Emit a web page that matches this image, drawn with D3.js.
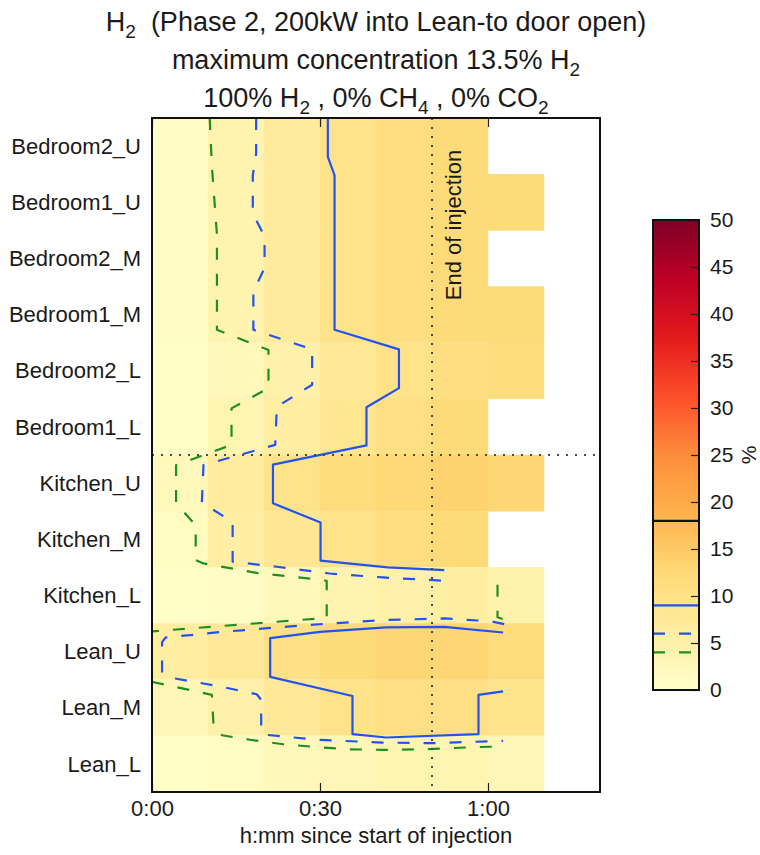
<!DOCTYPE html>
<html>
<head>
<meta charset="utf-8">
<script src="https://cdn.jsdelivr.net/npm/d3@7/dist/d3.min.js"></script>
<style>
  body { margin: 0; background: #fff; }
  text { font-family: "Liberation Sans", Arial, Helvetica, sans-serif; fill: #1a1a1a; }
</style>
</head>
<body>
<svg id="chart" width="760" height="855"></svg>
<script>
// ---- data -------------------------------------------------------------
const rooms = ["Bedroom2_U", "Bedroom1_U", "Bedroom2_M", "Bedroom1_M", "Bedroom2_L", "Bedroom1_L",
               "Kitchen_U", "Kitchen_M", "Kitchen_L", "Lean_U", "Lean_M", "Lean_L"];
const binStarts = [0, 10, 20, 30, 40, 50, 60, 70];   // minutes, 10-minute bins
const binWidth = 10;

// peak H2 % in each 10-minute bin (null = no reading)
const bedroom2U = [1.0, 4.0, 7.0, 9.5, 11.0, 12.0, null, null];
const bedroom1U = [1.0, 4.0, 7.0, 9.5, 11.0, 12.0, 12.0, null];
const bedroom2M = [1.0, 4.0, 7.0, 9.5, 11.0, 12.0, null, null];
const bedroom1M = [1.0, 4.0, 7.0, 9.5, 11.0, 12.0, 12.0, null];
const bedroom2L = [0.5, 2.5, 5.0, 7.5, 9.5, 11.0, 11.5, null];
const bedroom1L = [0.5, 3.5, 6.0, 8.5, 10.5, 12.0, null, null];
const kitchenU  = [2.5, 6.5, 9.5, 11.5, 12.5, 13.5, 13.0, null];
const kitchenM  = [1.5, 5.5, 8.0, 9.5, 11.0, 12.0, null, null];
const kitchenL  = [0.5, 1.0, 2.5, 4.0, 5.0, 5.5, 4.5, null];
const leanU     = [6.0, 7.5, 10.0, 12.0, 13.0, 13.0, 11.5, null];
const leanM     = [3.0, 5.0, 7.5, 9.5, 10.5, 10.5, 9.0, null];
const leanL     = [0.5, 1.5, 2.5, 3.0, 3.5, 3.5, 3.0, null];

// threshold contours: [minutes, row position] (row 0 = Bedroom2_U centre)
const contour9a = [[31.4,-0.5],[31.4,0.19],[32.6,0.52],[32.6,3.27],[44.1,3.62],[44.1,4.31],[38.3,4.65],
  [38.3,5.33],[21.6,5.67],[21.6,6.36],[30.1,6.7],[30.1,7.38],[42.1,7.5],[52.2,7.55]];
const contour9b = [[62.7,8.66],[52.2,8.56],[41.8,8.57],[30.0,8.65],[21.1,8.76],[21.1,9.45],[35.8,9.79],
  [35.8,10.47],[41.8,10.53],[58.3,10.47],[58.3,9.77],[62.7,9.71]];
const contour6a = [[18.6,-0.5],[18.6,0.13],[18.0,0.52],[18.0,1.2],[20.1,1.61],[20.1,2.17],[18.1,2.59],
  [18.1,3.27],[28.6,3.62],[28.6,4.25],[22.3,4.64],[22.0,5.32],[9.2,5.68],[8.9,6.35],[14.4,6.69],
  [14.4,7.4],[22.3,7.49],[31.7,7.61],[41.2,7.68],[52.2,7.74]];
const contour6b = [[62.9,8.51],[60.5,8.46],[52.2,8.41],[41.2,8.44],[31.7,8.5],[22.3,8.57],[12.5,8.65],
  [2.4,8.75],[1.8,8.83],[1.8,9.36],[3.6,9.47],[11.6,9.61],[18.7,9.76],[19.5,9.86],[19.5,10.43],
  [20.2,10.48],[29.4,10.57],[41.2,10.62],[50.1,10.63],[62.7,10.59]];
const contour4a = [[10.3,-0.5],[10.7,0.37],[11.6,1.58],[11.6,3.27],[20.8,3.63],[20.8,4.31],[14.2,4.67],
  [14.2,5.32],[4.3,5.68],[4.3,6.36],[7.8,6.75],[7.8,7.37],[9.2,7.43],[18.7,7.6],[28.2,7.7],
  [31.2,7.74],[31.2,8.4],[0,8.64]];
const contour4b = [[0,9.54],[10.7,9.77],[11.0,10.34],[12.5,10.49],[17.5,10.57],[23.4,10.65],[29.4,10.7],
  [35.3,10.74],[41.2,10.75],[48.4,10.74],[53.1,10.72],[57.9,10.7],[62.7,10.69]];
const contour4c = [[61.7,7.81],[61.7,8.39],[62.9,8.43]];

const levels = [4, 6, 9];          // contour levels, %
const markerLevel = 18;            // black marker on the colour bar
const endOfInjection = 50;         // minutes
const roomDivider = 5.5;           // between Bedroom1_L and Kitchen_U
const xTicks = [0, 30, 60];
const cbTicks = [0, 5, 10, 15, 20, 25, 30, 35, 40, 45, 50];
const ylorrd = ["#ffffcc", "#ffeda0", "#fed976", "#feb24c", "#fd8d3c", "#fc4e2a", "#e31a1c", "#bd0026", "#800026"];

const grid = [bedroom2U, bedroom1U, bedroom2M, bedroom1M, bedroom2L, bedroom1L,
              kitchenU, kitchenM, kitchenL, leanU, leanM, leanL];

// ---- layout -----------------------------------------------------------
const svg = d3.select("#chart");
const plot = { left: 152, right: 600, top: 118, bottom: 792 };
const cb = { left: 653, right: 699, top: 220, bottom: 690 };
const labelSize = "22px";

const x = d3.scaleLinear().domain([0, 80]).range([plot.left, plot.right]);
const yBand = d3.scaleBand().domain(rooms).range([plot.top, plot.bottom]).padding(0);
const yRow = d3.scaleLinear().domain([-0.5, rooms.length - 0.5]).range([plot.top, plot.bottom]);
const color = d3.scaleLinear()
  .domain(ylorrd.map((_, i) => i * 50 / (ylorrd.length - 1)))
  .range(ylorrd).interpolate(d3.interpolateRgb);
const cbY = d3.scaleLinear().domain([0, 50]).range([cb.bottom, cb.top]);

const styles = {
  4: { stroke: "#1f8f1f", dash: "12,14" },
  6: { stroke: "#2352f0", dash: "12,14" },
  9: { stroke: "#2352f0", dash: null }
};

// ---- heatmap cells ----------------------------------------------------
const cells = [];
grid.forEach((row, r) => row.forEach((v, c) => {
  if (v !== null) cells.push({ room: rooms[r], t0: binStarts[c], v });
}));
svg.append("g").selectAll("rect").data(cells).join("rect")
  .attr("x", d => x(d.t0))
  .attr("y", d => yBand(d.room))
  .attr("width", d => x(d.t0 + binWidth) - x(d.t0))
  .attr("height", yBand.bandwidth())
  .attr("fill", d => color(d.v))
  .attr("stroke", d => color(d.v)).attr("stroke-width", 0.5);

// ---- contour lines ----------------------------------------------------
const line = d3.line().x(d => x(d[0])).y(d => yRow(d[1]));
const contours = [
  { level: 4, pts: contour4a }, { level: 4, pts: contour4b }, { level: 4, pts: contour4c },
  { level: 6, pts: contour6a }, { level: 6, pts: contour6b },
  { level: 9, pts: contour9a }, { level: 9, pts: contour9b }
];
svg.append("clipPath").attr("id", "plotclip").append("rect")
  .attr("x", plot.left).attr("y", plot.top)
  .attr("width", plot.right - plot.left).attr("height", plot.bottom - plot.top);
svg.append("g").attr("clip-path", "url(#plotclip)")
  .selectAll("path").data(contours).join("path")
  .attr("d", d => line(d.pts))
  .attr("fill", "none")
  .attr("stroke", d => styles[d.level].stroke)
  .attr("stroke-width", 2.2)
  .attr("stroke-linejoin", "round")
  .attr("stroke-dasharray", d => styles[d.level].dash);

// ---- reference lines --------------------------------------------------
const dotted = { stroke: "#4a4a4a", width: 2, dash: "2,7" };
svg.append("line")
  .attr("x1", x(endOfInjection)).attr("x2", x(endOfInjection))
  .attr("y1", plot.top).attr("y2", plot.bottom)
  .attr("stroke", dotted.stroke).attr("stroke-width", dotted.width).attr("stroke-dasharray", dotted.dash);
svg.append("line")
  .attr("x1", plot.left).attr("x2", plot.right)
  .attr("y1", yRow(roomDivider)).attr("y2", yRow(roomDivider))
  .attr("stroke", dotted.stroke).attr("stroke-width", dotted.width).attr("stroke-dasharray", dotted.dash);
svg.append("text")
  .attr("transform", `translate(${x(endOfInjection) + 29},${plot.top + 107}) rotate(-90)`)
  .attr("text-anchor", "middle")
  .style("font-size", labelSize)
  .text("End of injection");

// ---- axes ---------------------------------------------------------------
const fmt = m => `${Math.floor(m / 60)}:${String(m % 60).padStart(2, "0")}`;
const xAxis = svg.append("g").attr("transform", `translate(0,${plot.bottom})`)
  .call(d3.axisBottom(x).tickValues(xTicks).tickFormat(fmt).tickSizeInner(-9).tickSizeOuter(0).tickPadding(8));
xAxis.select(".domain").remove();
xAxis.selectAll("line").attr("stroke", "#222").attr("stroke-width", 1.2);
xAxis.selectAll("text").style("font-size", labelSize).attr("fill", "#1a1a1a");

const xTop = svg.append("g").attr("transform", `translate(0,${plot.top})`)
  .call(d3.axisTop(x).tickValues(xTicks).tickFormat("").tickSizeInner(-9).tickSizeOuter(0));
xTop.select(".domain").remove();
xTop.selectAll("line").attr("stroke", "#222").attr("stroke-width", 1.2);

svg.append("g").selectAll("text").data(rooms).join("text")
  .attr("x", plot.left - 11)
  .attr("y", d => yBand(d) + yBand.bandwidth() / 2)
  .attr("dy", "0.35em")
  .attr("text-anchor", "end")
  .style("font-size", labelSize)
  .text(d => d);

svg.append("text")
  .attr("x", (plot.left + plot.right) / 2).attr("y", 843)
  .attr("text-anchor", "middle").style("font-size", labelSize)
  .text("h:mm since start of injection");

// plot frame
svg.append("rect")
  .attr("x", plot.left).attr("y", plot.top)
  .attr("width", plot.right - plot.left).attr("height", plot.bottom - plot.top)
  .attr("fill", "none").attr("stroke", "#111").attr("stroke-width", 2);

// ---- title ----------------------------------------------------------------
const titleLines = [
  [["H", 0], ["2", 1], ["  (Phase 2, 200kW into Lean-to door open)", 0]],
  [["maximum concentration 13.5% H", 0], ["2", 1]],
  [["100% H", 0], ["2", 1], [" , 0% CH", 0], ["4", 1], [" , 0% CO", 0], ["2", 1]]
];
const titleY = [31, 69, 107];
titleLines.forEach((segs, i) => {
  const t = svg.append("text")
    .attr("x", 376).attr("y", titleY[i])
    .attr("text-anchor", "middle")
    .style("font-size", "27px")
    .style("white-space", "pre");
  segs.forEach(([s, sub], j) => {
    const ts = t.append("tspan").text(s);
    if (sub) ts.style("font-size", "19px").attr("dy", 7);
    else if (j > 0 && segs[j - 1][1]) ts.attr("dy", -7);
  });
});

// ---- colour bar ---------------------------------------------------------
const grad = svg.append("defs").append("linearGradient")
  .attr("id", "cbgrad").attr("x1", 0).attr("y1", 1).attr("x2", 0).attr("y2", 0);
grad.selectAll("stop").data(ylorrd).join("stop")
  .attr("offset", (_, i) => i / (ylorrd.length - 1))
  .attr("stop-color", d => d);
svg.append("rect")
  .attr("x", cb.left).attr("y", cb.top)
  .attr("width", cb.right - cb.left).attr("height", cb.bottom - cb.top)
  .attr("fill", "url(#cbgrad)");

// contour levels and marker on the bar
const cbLines = [{ v: markerLevel, stroke: "#111", dash: null }]
  .concat(levels.map(l => ({ v: l, stroke: styles[l].stroke, dash: styles[l].dash })));
svg.append("g").selectAll("line").data(cbLines).join("line")
  .attr("x1", cb.left).attr("x2", cb.right)
  .attr("y1", d => cbY(d.v)).attr("y2", d => cbY(d.v))
  .attr("stroke", d => d.stroke).attr("stroke-width", 2.2)
  .attr("stroke-dasharray", d => d.dash);

const cbAxis = svg.append("g").attr("transform", `translate(${cb.right},0)`)
  .call(d3.axisRight(cbY).tickValues(cbTicks).tickSizeInner(-8).tickSizeOuter(0).tickPadding(11));
cbAxis.select(".domain").remove();
cbAxis.selectAll("line").attr("stroke", "#222").attr("stroke-width", 1.2);
cbAxis.selectAll("text").style("font-size", "21px").attr("fill", "#1a1a1a");

svg.append("rect")
  .attr("x", cb.left).attr("y", cb.top)
  .attr("width", cb.right - cb.left).attr("height", cb.bottom - cb.top)
  .attr("fill", "none").attr("stroke", "#111").attr("stroke-width", 2);

svg.append("text")
  .attr("transform", `translate(756,${(cb.top + cb.bottom) / 2}) rotate(-90)`)
  .attr("text-anchor", "middle")
  .style("font-size", "21px")
  .text("%");
</script>
</body>
</html>
